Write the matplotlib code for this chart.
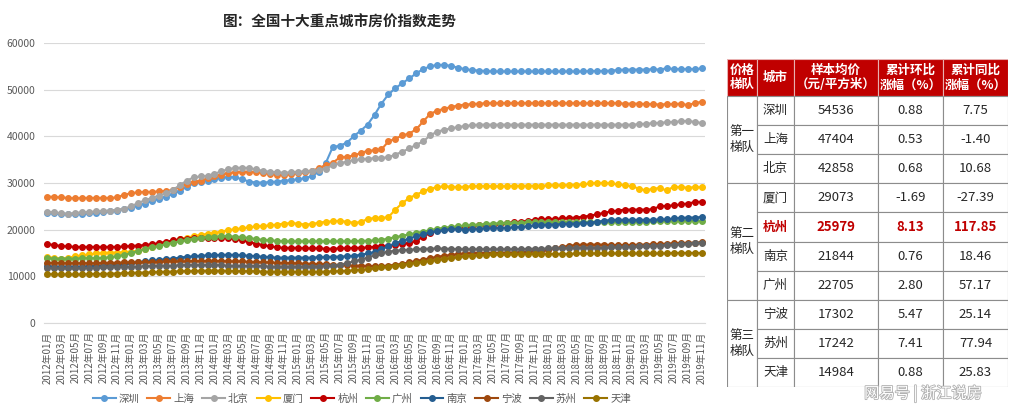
import matplotlib
matplotlib.use('Agg')
from matplotlib import pyplot as plt
from matplotlib.patches import Rectangle
import matplotlib.patheffects as pe

plt.rcParams['font.family'] = ['Noto Sans CJK SC', 'DejaVu Sans']

# month categories 2012-01 .. 2019-11
months = [f'{y}年{m:02d}月' for y in range(2012, 2020) for m in range(1, 13)][:95]

cities = ['深圳', '上海', '北京', '厦门', '杭州', '广州', '南京', '宁波', '苏州', '天津']
colors = ['#5B9BD5', '#ED7D31', '#A5A5A5', '#FFC000', '#C00000',
          '#70AD47', '#255E91', '#9E480E', '#636363', '#997300']

shenzhen = [23600, 23500, 23400, 23300, 23300, 23400, 23500, 23600, 23700, 23900, 24100, 24400,
            24700, 25100, 25600, 26100, 26600, 27100, 27600, 28300, 29200, 29900, 30300, 30500,
            30900, 31100, 31300, 31200, 30800, 30300, 30100, 30100, 30200, 30300, 30500, 30600,
            30800, 31000, 31500, 32400, 34300, 37700, 38000, 38600, 40000, 41200, 42500, 44600,
            47000, 49000, 50300, 51400, 52400, 53500, 54400, 55000, 55300, 55300, 55100, 54700,
            54400, 54200, 54100, 54000, 53900, 53900, 53900, 53900, 53900, 53900, 53900, 53900,
            53900, 53900, 53900, 53900, 53900, 53900, 54000, 54000, 54000, 54100, 54200, 54300,
            54300, 54300, 54300, 54400, 54300, 54600, 54400, 54400, 54400, 54400, 54536]
shanghai = [27100, 27000, 26900, 26800, 26700, 26800, 26800, 26800, 26800, 26800, 26900, 27500,
            27800, 28000, 28100, 28100, 28200, 28300, 28500, 29200, 29800, 30300, 30500, 31000,
            31400, 31800, 32100, 32300, 32400, 32400, 32300, 32100, 32000, 31800, 31700, 31900,
            32100, 32300, 32600, 33200, 33800, 34300, 35500, 35600, 35900, 36400, 36900, 37000,
            37200, 38900, 39500, 40200, 40600, 41500, 43200, 44800, 45500, 45900, 46300, 46600,
            46800, 46900, 47000, 47100, 47100, 47100, 47100, 47100, 47100, 47100, 47100, 47100,
            47100, 47100, 47100, 47100, 47100, 47100, 47100, 47100, 47100, 47100, 47100, 47000,
            47000, 47000, 46900, 46900, 46800, 46900, 46900, 47000, 46700, 47100, 47404]
beijing = [23800, 23700, 23500, 23400, 23600, 23700, 23800, 23900, 24000, 24100, 24300, 24500,
           25000, 25700, 26300, 26800, 27300, 27800, 28500, 29500, 30500, 31200, 31400, 31500,
           32000, 32500, 33000, 33200, 33300, 33200, 32900, 32600, 32400, 32300, 32200, 32300,
           32400, 32500, 32600, 32800, 33100, 33800, 34200, 34600, 34900, 35100, 35200, 35300,
           35400, 35500, 36100, 36700, 37400, 38200, 38900, 40200, 41000, 41400, 41700, 42000,
           42200, 42400, 42500, 42500, 42500, 42500, 42500, 42500, 42500, 42500, 42500, 42500,
           42500, 42500, 42500, 42500, 42500, 42500, 42500, 42500, 42500, 42500, 42500, 42500,
           42500, 42600, 42700, 42800, 42900, 43000, 43100, 43200, 43300, 43100, 42858]
xiamen = [14200, 13900, 13800, 14000, 14300, 14500, 14700, 14900, 15000, 15100, 15100, 15200,
          15300, 15500, 15900, 16300, 16800, 17200, 17600, 18000, 18300, 18600, 18900, 19100,
          19300, 19600, 19900, 20100, 20300, 20500, 20700, 20800, 20900, 21100, 21300, 21400,
          21300, 21100, 21200, 21500, 21700, 21800, 21900, 21700, 21500, 21600, 22300, 22500,
          22500, 22700, 24300, 25700, 26800, 27500, 28200, 28800, 29100, 29300, 29200, 29100,
          29200, 29300, 29300, 29300, 29300, 29300, 29300, 29400, 29400, 29400, 29400, 29400,
          29500, 29500, 29500, 29600, 29600, 29700, 29900, 30000, 30000, 29900, 29700, 29500,
          29300, 28800, 28400, 28800, 28900, 28400, 29200, 29100, 29000, 29100, 29073]
hangzhou = [16900, 16700, 16500, 16400, 16300, 16300, 16300, 16300, 16300, 16300, 16300, 16400,
            16500, 16600, 16700, 16900, 17100, 17400, 17700, 17900, 18100, 18200, 18200, 18300,
            18300, 18300, 18200, 18000, 17700, 17300, 17000, 16700, 16400, 16200, 16100, 16100,
            16100, 16000, 16000, 16000, 15900, 15900, 16000, 16000, 16100, 16100, 16200, 16300,
            16400, 16600, 16800, 17000, 17100, 17600, 18500, 19300, 20000, 20200, 20300, 20500,
            20600, 20800, 20900, 21000, 21100, 21200, 21400, 21600, 21700, 21900, 22100, 22200,
            22300, 22300, 22400, 22500, 22600, 22800, 23000, 23300, 23600, 23900, 24100, 24300,
            24300, 24300, 24300, 24400, 25000, 25100, 25200, 25400, 25600, 25900, 25979]
guangzhou = [13900, 13800, 13800, 13800, 13800, 13900, 13900, 13900, 14000, 14100, 14300, 14600,
             15000, 15400, 15800, 16200, 16500, 16900, 17200, 17500, 17800, 18100, 18300, 18400,
             18500, 18600, 18600, 18500, 18400, 18200, 18000, 17800, 17700, 17600, 17500, 17500,
             17500, 17500, 17500, 17500, 17500, 17500, 17500, 17500, 17500, 17600, 17600, 17700,
             17800, 18100, 18400, 18700, 19000, 19300, 19600, 19900, 20200, 20400, 20600, 20700,
             20900, 21000, 21100, 21200, 21300, 21400, 21400, 21500, 21500, 21600, 21600, 21600,
             21600, 21600, 21600, 21600, 21600, 21600, 21600, 21700, 21700, 21700, 21700, 21700,
             21700, 21700, 21700, 21800, 21800, 21800, 21800, 21800, 21900, 21900, 21844]
nanjing = [12200, 12100, 12100, 12100, 12100, 12100, 12200, 12200, 12300, 12400, 12500, 12600,
           12800, 13000, 13200, 13400, 13500, 13700, 13800, 14000, 14200, 14300, 14400, 14500,
           14500, 14600, 14600, 14600, 14500, 14400, 14300, 14200, 14100, 14000, 14000, 14000,
           14000, 14000, 14000, 14100, 14100, 14200, 14200, 14300, 14400, 14600, 14900, 15200,
           15800, 16500, 17100, 17600, 18100, 18600, 19000, 19400, 19700, 19900, 20100, 20100,
           20000, 20100, 20200, 20300, 20300, 20400, 20400, 20500, 20600, 20700, 20900, 21000,
           21100, 21100, 21200, 21300, 21300, 21400, 21500, 21700, 21900, 22100, 22100, 22100,
           22100, 22100, 22100, 22100, 22200, 22200, 22400, 22500, 22600, 22600, 22705]
ningbo = [12900, 12900, 12800, 12800, 12800, 12800, 12800, 12800, 12900, 12900, 12900, 13000,
          13000, 13000, 13100, 13100, 13100, 13200, 13200, 13200, 13200, 13300, 13300, 13300,
          13300, 13300, 13200, 13200, 13200, 13100, 13100, 13000, 13000, 12900, 12900, 12800,
          12800, 12700, 12700, 12600, 12600, 12500, 12400, 12400, 12300, 12300, 12200, 12200,
          12200, 12300, 12500, 12700, 13000, 13300, 13600, 13900, 14200, 14400, 14600, 14800,
          14900, 15000, 15000, 15000, 15000, 15000, 15100, 15100, 15200, 15300, 15400, 15500,
          15700, 16000, 16300, 16600, 16700, 16800, 16800, 16800, 16800, 16700, 16700, 16700,
          16700, 16800, 16800, 16900, 16900, 17000, 17100, 17100, 17200, 17200, 17302]
suzhou = [11800, 11700, 11700, 11700, 11700, 11800, 11800, 11800, 11900, 11900, 12000, 12000,
          12100, 12100, 12200, 12200, 12300, 12300, 12300, 12400, 12400, 12400, 12400, 12400,
          12400, 12400, 12300, 12300, 12300, 12200, 12200, 12200, 12100, 12100, 12100, 12100,
          12100, 12100, 12100, 12100, 12200, 12300, 12500, 12800, 13200, 13600, 14000, 14500,
          15000, 15300, 15500, 15600, 15700, 15800, 15900, 15900, 16000, 15900, 15900, 15800,
          15800, 15800, 15800, 15800, 15800, 15800, 15800, 15800, 15800, 15900, 15900, 15900,
          16000, 16000, 16000, 16000, 16100, 16100, 16100, 16100, 16100, 16200, 16200, 16300,
          16300, 16400, 16400, 16500, 16600, 16700, 16800, 16900, 17000, 17100, 17242]
tianjin = [10500, 10400, 10400, 10400, 10400, 10400, 10500, 10500, 10500, 10600, 10600, 10700,
           10700, 10800, 10800, 10900, 10900, 11000, 11000, 11100, 11100, 11100, 11200, 11200,
           11200, 11200, 11200, 11100, 11100, 11100, 11100, 11000, 11000, 11000, 11000, 11000,
           11000, 11000, 11000, 11000, 11000, 11100, 11100, 11200, 11300, 11400, 11500, 11700,
           11900, 12100, 12300, 12500, 12700, 12900, 13100, 13300, 13500, 13700, 13900, 14100,
           14300, 14400, 14500, 14600, 14700, 14700, 14700, 14800, 14800, 14800, 14800, 14800,
           14800, 14800, 14800, 14800, 14900, 14900, 14900, 14900, 14900, 14900, 14900, 14900,
           14900, 14900, 14900, 14900, 14900, 14900, 15000, 15000, 15000, 15000, 14984]

series = [shenzhen, shanghai, beijing, xiamen, hangzhou, guangzhou, nanjing, ningbo, suzhou, tianjin]

# table data
tiers = ['第一\n梯队', '第二\n梯队', '第三\n梯队']
tier_rows = [3, 4, 3]
tab_cities = ['深圳', '上海', '北京', '厦门', '杭州', '南京', '广州', '宁波', '苏州', '天津']
tab_price = [54536, 47404, 42858, 29073, 25979, 21844, 22705, 17302, 17242, 14984]
tab_mom = [0.88, 0.53, 0.68, -1.69, 8.13, 0.76, 2.80, 5.47, 7.41, 0.88]
tab_yoy = [7.75, -1.40, 10.68, -27.39, 117.85, 18.46, 57.17, 25.14, 77.94, 25.83]
headers = ['价格\n梯队', '城市', '样本均价\n（元/平方米）', '累计环比\n涨幅（%）', '累计同比\n涨幅（%）']

W, H = 1014, 413
fig = plt.figure(figsize=(W / 100, H / 100), dpi=100)

# ---- line chart ----
ax = fig.add_axes([44 / W, 1 - 323 / H, (705 - 44) / W, (323 - 43) / H])
x = list(range(len(months)))
for name, vals, c in zip(cities, series, colors):
    ax.plot(x, vals, color=c, lw=1.5, marker='o', ms=4, label=name)
ax.set_xlim(-0.5, len(months) - 0.5)
ax.set_ylim(0, 60000)
ax.set_yticks(range(0, 60001, 10000))
ax.set_xticks(x[::2])
ax.set_xticklabels(months[::2], rotation=90, fontsize=7, color='#595959')
ax.tick_params(axis='y', labelsize=7.5, labelcolor='#595959', length=0, pad=6)
ax.tick_params(axis='x', length=0, pad=6)
ax.grid(axis='y', color='#D9D9D9', lw=0.8)
ax.set_axisbelow(True)
for s in ['top', 'right', 'left']:
    ax.spines[s].set_visible(False)
ax.spines['bottom'].set_color('#D9D9D9')

fig.text(340 / W, 1 - 22 / H, '图：全国十大重点城市房价指数走势', ha='center', va='center',
         fontsize=10.5, fontweight='bold', color='#262626')

leg = fig.legend(ncol=10, loc='center', bbox_to_anchor=(362 / W, 1 - 399 / H), frameon=False,
                 fontsize=7.5, handlelength=2.2, handletextpad=0.3, columnspacing=0.75)
for t in leg.get_texts():
    t.set_color('#595959')

# ---- table ----
tx0, ty0, tw, th = 727, 59, 281, 328
tab = fig.add_axes([tx0 / W, 1 - (ty0 + th) / H, tw / W, th / H])
tab.set_xlim(0, tw)
tab.set_ylim(th, 0)
tab.axis('off')

cols = [0, 30, 67, 151, 216, 281]
head_h = 37
row_h = (th - head_h) / 10
red = '#C00000'
edge = '#8C8C8C'

for j, htxt in enumerate(headers):
    tab.add_patch(Rectangle((cols[j], 0), cols[j + 1] - cols[j], head_h, facecolor=red,
                            edgecolor='#E8B0B0', lw=0.8))
    tab.text((cols[j] + cols[j + 1]) / 2, head_h / 2, htxt, ha='center', va='center',
             fontsize=9, fontweight='bold', color='white', linespacing=1.15)

r0 = 0
for tname, n in zip(tiers, tier_rows):
    y0 = head_h + r0 * row_h
    tab.add_patch(Rectangle((0, y0), cols[1], n * row_h, facecolor='white', edgecolor=edge, lw=0.8))
    tab.text(cols[1] / 2, y0 + n * row_h / 2, tname, ha='center', va='center', fontsize=9,
             color='#262626', linespacing=1.35)
    r0 += n

for i in range(10):
    y0 = head_h + i * row_h
    hl = tab_cities[i] == '杭州'
    vals = [tab_cities[i], str(tab_price[i]), f'{tab_mom[i]:.2f}', f'{tab_yoy[i]:.2f}']
    for j, v in enumerate(vals):
        c0, c1 = cols[j + 1], cols[j + 2]
        tab.add_patch(Rectangle((c0, y0), c1 - c0, row_h, facecolor='white', edgecolor=edge, lw=0.8))
        tab.text((c0 + c1) / 2, y0 + row_h / 2, v, ha='center', va='center',
                 fontsize=9.5 if j else 9, fontweight='bold' if hl else 'normal',
                 color=red if hl else '#262626')

fig.text(923 / W, 1 - 393 / H, '网易号 | 浙江说房', ha='center', va='center', fontsize=11,
         color='white', style='italic',
         path_effects=[pe.withStroke(linewidth=1.2, foreground='#B0B0B0')])

fig.savefig('out.png', dpi=100)
